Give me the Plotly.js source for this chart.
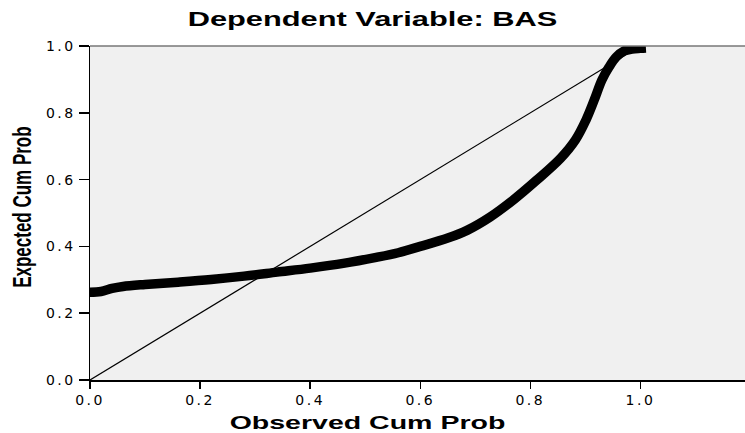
<!DOCTYPE html>
<html><head><meta charset="utf-8">
<script src="https://cdn.plot.ly/plotly-3.0.1.min.js"></script>
<style>
body{margin:0;background:#fff}
#c{width:745px;height:433px}
#c .gtitle{transform-box:fill-box;transform-origin:center;transform:scaleX(1.58)}
#c .xtitle{transform-box:fill-box;transform-origin:center;transform:translateX(-50px) scaleX(1.63)}
#c .ytitle{transform-box:fill-box;transform-origin:center;transform:translateX(-6px) rotate(-90deg) scaleY(1.5)}
#c .xtick text, #c .ytick text{letter-spacing:2.5px}
</style>
</head><body><div id="c"></div>
<script>
const observed = [0.0, 0.02, 0.04, 0.06, 0.10, 0.16, 0.22, 0.28, 0.34, 0.40, 0.46, 0.52, 0.56, 0.60, 0.65, 0.685, 0.727, 0.769, 0.812, 0.855, 0.882, 0.901, 0.916, 0.930, 0.943, 0.956, 0.970, 0.985, 1.0, 1.01];
const expected = [0.263, 0.265, 0.274, 0.280, 0.286, 0.293, 0.301, 0.311, 0.323, 0.335, 0.349, 0.367, 0.381, 0.400, 0.425, 0.448, 0.488, 0.539, 0.599, 0.664, 0.719, 0.778, 0.838, 0.898, 0.937, 0.967, 0.985, 0.991, 0.993, 0.994];
const refLineX = [0, 1];
const refLineY = [0, 1];
const xTicks = [0, 0.2, 0.4, 0.6, 0.8, 1.0];
const yTicks = [0, 0.2, 0.4, 0.6, 0.8, 1.0];

const tickFont = {family: 'DejaVu Sans, Verdana, sans-serif', size: 14, color: '#000'};
const boldFont = {family: 'Liberation Sans, Arial, sans-serif', color: '#000', weight: 'bold'};
const data = [
  {x: refLineX, y: refLineY, mode: 'lines', line: {color: '#000', width: 1.2}, hoverinfo: 'skip'},
  {x: observed, y: expected, mode: 'lines', line: {color: '#000', width: 9.5, shape: 'spline', smoothing: 1}, hoverinfo: 'skip', cliponaxis: false}
];
const layout = {
  width: 745, height: 433,
  margin: {l: 90, r: 0, t: 46, b: 53},
  paper_bgcolor: '#fff', plot_bgcolor: '#f0f0f0',
  showlegend: false,
  title: {text: 'Dependent Variable: BAS', x: 0.5, xanchor: 'center', y: 0.955, yanchor: 'middle',
          font: Object.assign({size: 19.5}, boldFont)},
  xaxis: {range: [0, 1.19], tickvals: xTicks, ticktext: xTicks.map(v => v.toFixed(1)),
          ticks: 'outside', ticklen: 7, tickwidth: 1.5, tickcolor: '#000', showgrid: false, zeroline: false,
          showline: true, linecolor: '#000', linewidth: 1.5, tickfont: tickFont, fixedrange: true,
          title: {text: 'Observed Cum Prob', standoff: 10, font: Object.assign({size: 17.5}, boldFont)}},
  yaxis: {range: [0, 1], tickvals: yTicks, ticktext: yTicks.map(v => v.toFixed(1)),
          ticks: 'outside', ticklen: 10, tickwidth: 1.5, tickcolor: '#000', showgrid: false, zeroline: false,
          showline: true, linecolor: '#000', linewidth: 1.5, tickfont: tickFont, fixedrange: true,
          title: {text: 'Expected Cum Prob', standoff: 20, font: Object.assign({size: 17}, boldFont)}},
  shapes: [{type: 'line', xref: 'paper', yref: 'paper', x0: 0, x1: 1, y0: 1, y1: 1, line: {color: '#777', width: 1.5}}]
};
Plotly.newPlot('c', data, layout, {displayModeBar: false, staticPlot: true});
</script></body></html>
